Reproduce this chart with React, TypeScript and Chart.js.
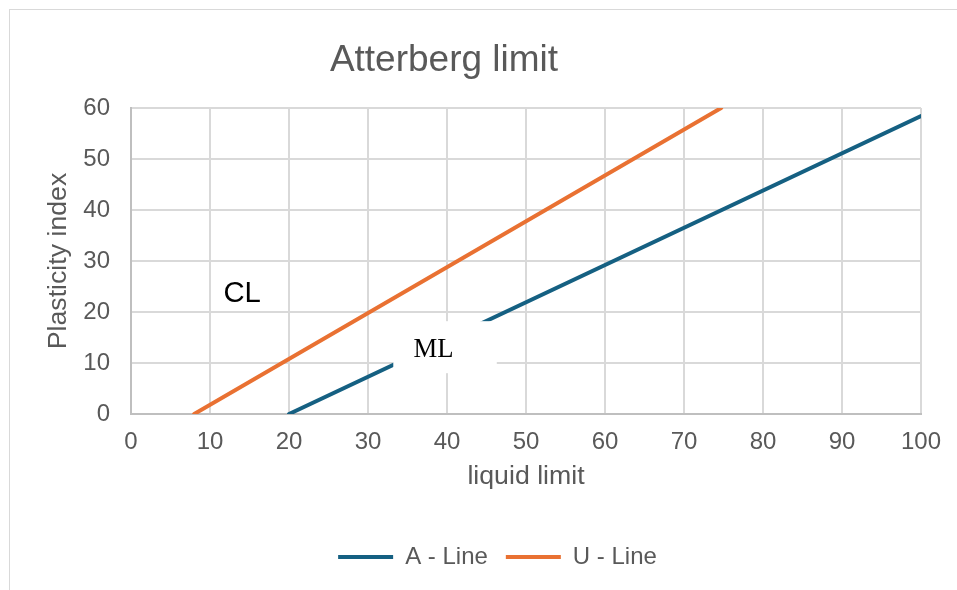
import React, { useEffect, useRef } from "react";
import { Chart, registerables } from "chart.js";

Chart.register(...registerables);

// ---- data ----
const CHART_TITLE = "Atterberg limit";
const X_AXIS_TITLE = "liquid limit";
const Y_AXIS_TITLE = "Plasticity index";
const SERIES_NAMES = ["A - Line", "U - Line"];
const A_LINE_LL = [20, 100];
const A_LINE_PI = [0, 58.4];
const U_LINE_LL = [8, 74.7];
const U_LINE_PI = [0, 60];
const X_TICK_RANGE = [0, 100, 10]; // min, max, step
const Y_TICK_RANGE = [0, 60, 10];
const ZONE_LABELS = ["CL", "ML"];

// ---- annotation placement (data units) ----
const CL_POS = { x: 11.7, y: 22.0 };
const ML_BOX = { x0: 33.2, x1: 46.3, y0: 8.0, y1: 18.2 };
const ML_TEXT_POS = { x: 35.75, y: 11.2 };

const COLORS = ["#156082", "#E97132"];
const TEXT_GREY = "#595959";
const GRID = "#d9d9d9";
const SANS = "'Liberation Sans', Arial, sans-serif";
const SERIF = "'Liberation Serif', 'Times New Roman', serif";

const annotationPlugin = {
  id: "zoneLabels",
  afterLayout(chart: any) {
    const tb = chart.titleBlock;
    if (tb) {
      const w = tb.right - tb.left;
      tb.left = 444 - w / 2;
      tb.right = 444 + w / 2;
    }
    const lg = chart.legend;
    if (lg) {
      lg.left += 37;
      lg.right += 37;
    }
  },
  afterDatasetsDraw(chart: any) {
    const { ctx, scales } = chart;
    const xs = scales.x;
    const ys = scales.y;
    ctx.save();
    // ML white box
    const bx0 = xs.getPixelForValue(ML_BOX.x0);
    const bx1 = xs.getPixelForValue(ML_BOX.x1);
    const by0 = ys.getPixelForValue(ML_BOX.y1);
    const by1 = ys.getPixelForValue(ML_BOX.y0);
    ctx.fillStyle = "#ffffff";
    ctx.fillRect(bx0, by0, bx1 - bx0, by1 - by0);
    ctx.fillStyle = "#000000";
    ctx.textBaseline = "alphabetic";
    ctx.textAlign = "left";
    ctx.font = `26.7px ${SERIF}`;
    ctx.fillText(ZONE_LABELS[1], xs.getPixelForValue(ML_TEXT_POS.x), ys.getPixelForValue(ML_TEXT_POS.y));
    ctx.font = `29.3px ${SANS}`;
    ctx.fillText(ZONE_LABELS[0], xs.getPixelForValue(CL_POS.x), ys.getPixelForValue(CL_POS.y));
    ctx.restore();
  },
};

export default function App() {
  const canvasRef = useRef<HTMLCanvasElement | null>(null);

  useEffect(() => {
    if (!canvasRef.current) return;
    const aData = A_LINE_LL.map((x, i) => ({ x, y: A_LINE_PI[i] }));
    const uData = U_LINE_LL.map((x, i) => ({ x, y: U_LINE_PI[i] }));
    const chart = new Chart(canvasRef.current, {
      type: "line",
      data: {
        datasets: [
          {
            label: SERIES_NAMES[0],
            data: aData,
            borderColor: COLORS[0],
            backgroundColor: COLORS[0],
            borderWidth: 4,
            pointRadius: 0,
            borderCapStyle: "round",
            tension: 0,
          },
          {
            label: SERIES_NAMES[1],
            data: uData,
            borderColor: COLORS[1],
            backgroundColor: COLORS[1],
            borderWidth: 4,
            pointRadius: 0,
            borderCapStyle: "round",
            tension: 0,
          },
        ],
      },
      options: {
        responsive: false,
        animation: false,
        devicePixelRatio: 1,
        layout: { padding: { left: 0, right: 36, top: 0, bottom: 11 } },
        plugins: {
          title: {
            display: true,
            text: CHART_TITLE,
            color: TEXT_GREY,
            font: { family: SANS, size: 37, weight: "normal" },
            padding: { top: 39, bottom: 24.6 },
          },
          legend: {
            display: true,
            position: "bottom",
            labels: {
              usePointStyle: true,
              pointStyle: "line",
              pointStyleWidth: 55,
              color: TEXT_GREY,
              font: { family: SANS, size: 24 },
              padding: 18,
            },
          },
          tooltip: { enabled: false },
        },
        scales: {
          x: {
            type: "linear",
            min: X_TICK_RANGE[0],
            max: X_TICK_RANGE[1],
            ticks: {
              stepSize: X_TICK_RANGE[2],
              color: TEXT_GREY,
              font: { family: SANS, size: 24 },
              padding: 14,
              maxRotation: 0,
            },
            grid: { color: GRID, lineWidth: 2, drawTicks: false },
            border: { color: "#bfbfbf", width: 2 },
            title: {
              display: true,
              text: X_AXIS_TITLE,
              color: TEXT_GREY,
              font: { family: SANS, size: 26.7 },
              padding: { top: 0, bottom: 34 },
            },
            afterFit: (s: any) => {
              s.height = 113;
            },
          },
          y: {
            type: "linear",
            min: Y_TICK_RANGE[0],
            max: Y_TICK_RANGE[1],
            ticks: {
              stepSize: Y_TICK_RANGE[2],
              color: TEXT_GREY,
              font: { family: SANS, size: 24 },
              padding: 21,
            },
            grid: { color: GRID, lineWidth: 2, drawTicks: false },
            border: { color: "#bfbfbf", width: 2 },
            title: {
              display: true,
              text: Y_AXIS_TITLE,
              color: TEXT_GREY,
              font: { family: SANS, size: 26.7 },
              padding: { top: 42.5, bottom: 0 },
            },
            afterFit: (s: any) => {
              s.width = 131;
            },
          },
        },
      },
      plugins: [annotationPlugin],
    });
    return () => chart.destroy();
  }, []);

  return (
    <div style={{ position: "fixed", left: 0, top: 0, width: 957, height: 590, background: "#fff" }}>
      <div
        style={{
          position: "absolute",
          left: 9,
          top: 9,
          width: 1200,
          height: 1200,
          border: "1px solid #d9d9d9",
          boxSizing: "border-box",
        }}
      />
      <canvas
        ref={canvasRef}
        width={957}
        height={590}
        style={{ position: "absolute", left: 0, top: 0, width: 957, height: 590 }}
      />
    </div>
  );
}
